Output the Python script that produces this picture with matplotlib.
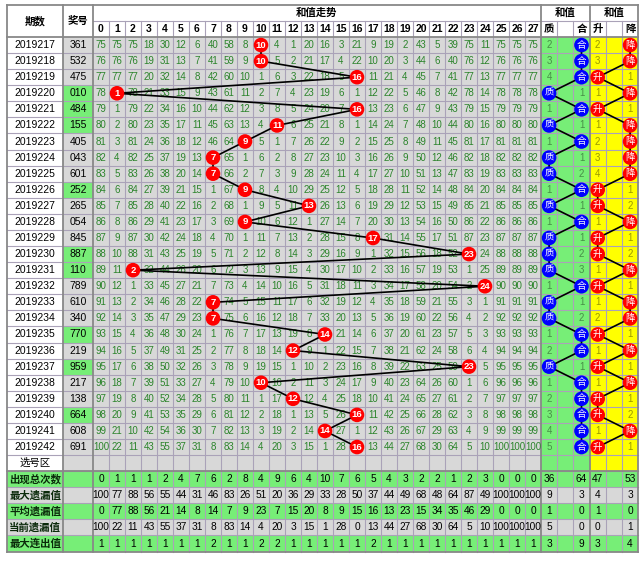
import matplotlib
matplotlib.use('Agg')
import matplotlib.pyplot as plt
from matplotlib.patches import Rectangle, Circle

plt.rcParams['font.family'] = ['Liberation Sans', 'Noto Sans CJK SC', 'DejaVu Sans']

# ---- data ----
issues = ['2019217', '2019218', '2019219', '2019220', '2019221', '2019222', '2019223',
          '2019224', '2019225', '2019226', '2019227', '2019228', '2019229', '2019230',
          '2019231', '2019232', '2019233', '2019234', '2019235', '2019236', '2019237',
          '2019238', '2019239', '2019240', '2019241', '2019242']
draws = ['361', '532', '475', '010', '484', '155', '405', '043', '601', '252', '265', '054', '845',
         '887', '110', '789', '610', '340', '770', '219', '959', '217', '138', '664', '608', '691']
hit_sum = [10, 10, 16, 1, 16, 11, 9, 7, 7, 9, 13, 9, 17, 23, 2, 24, 7, 7, 14, 12, 23, 10, 12, 16, 14, 16]

# omission per sum value 0..27 (0 = hit)
miss_rows = [
    "75 75 75 18 30 12 6 40 58 8 0 4 1 20 16 3 21 9 19 2 43 5 39 75 11 75 75 75",
    "76 76 76 19 31 13 7 41 59 9 0 5 2 21 17 4 22 10 20 3 44 6 40 76 12 76 76 76",
    "77 77 77 20 32 14 8 42 60 10 1 6 3 22 18 5 0 11 21 4 45 7 41 77 13 77 77 77",
    "78 0 78 21 33 15 9 43 61 11 2 7 4 23 19 6 1 12 22 5 46 8 42 78 14 78 78 78",
    "79 1 79 22 34 16 10 44 62 12 3 8 5 24 20 7 0 13 23 6 47 9 43 79 15 79 79 79",
    "80 2 80 23 35 17 11 45 63 13 4 0 6 25 21 8 1 14 24 7 48 10 44 80 16 80 80 80",
    "81 3 81 24 36 18 12 46 64 0 5 1 7 26 22 9 2 15 25 8 49 11 45 81 17 81 81 81",
    "82 4 82 25 37 19 13 0 65 1 6 2 8 27 23 10 3 16 26 9 50 12 46 82 18 82 82 82",
    "83 5 83 26 38 20 14 0 66 2 7 3 9 28 24 11 4 17 27 10 51 13 47 83 19 83 83 83",
    "84 6 84 27 39 21 15 1 67 0 8 4 10 29 25 12 5 18 28 11 52 14 48 84 20 84 84 84",
    "85 7 85 28 40 22 16 2 68 1 9 5 11 0 26 13 6 19 29 12 53 15 49 85 21 85 85 85",
    "86 8 86 29 41 23 17 3 69 0 10 6 12 1 27 14 7 20 30 13 54 16 50 86 22 86 86 86",
    "87 9 87 30 42 24 18 4 70 1 11 7 13 2 28 15 8 0 31 14 55 17 51 87 23 87 87 87",
    "88 10 88 31 43 25 19 5 71 2 12 8 14 3 29 16 9 1 32 15 56 18 52 0 24 88 88 88",
    "89 11 0 32 44 26 20 6 72 3 13 9 15 4 30 17 10 2 33 16 57 19 53 1 25 89 89 89",
    "90 12 1 33 45 27 21 7 73 4 14 10 16 5 31 18 11 3 34 17 58 20 54 2 0 90 90 90",
    "91 13 2 34 46 28 22 0 74 5 15 11 17 6 32 19 12 4 35 18 59 21 55 3 1 91 91 91",
    "92 14 3 35 47 29 23 0 75 6 16 12 18 7 33 20 13 5 36 19 60 22 56 4 2 92 92 92",
    "93 15 4 36 48 30 24 1 76 7 17 13 19 8 0 21 14 6 37 20 61 23 57 5 3 93 93 93",
    "94 16 5 37 49 31 25 2 77 8 18 14 0 9 1 22 15 7 38 21 62 24 58 6 4 94 94 94",
    "95 17 6 38 50 32 26 3 78 9 19 15 1 10 2 23 16 8 39 22 63 25 59 0 5 95 95 95",
    "96 18 7 39 51 33 27 4 79 10 0 16 2 11 3 24 17 9 40 23 64 26 60 1 6 96 96 96",
    "97 19 8 40 52 34 28 5 80 11 1 17 0 12 4 25 18 10 41 24 65 27 61 2 7 97 97 97",
    "98 20 9 41 53 35 29 6 81 12 2 18 1 13 5 26 0 11 42 25 66 28 62 3 8 98 98 98",
    "99 21 10 42 54 36 30 7 82 13 3 19 2 14 0 27 1 12 43 26 67 29 63 4 9 99 99 99",
    "100 22 11 43 55 37 31 8 83 14 4 20 3 15 1 28 0 13 44 27 68 30 64 5 10 100 100 100",
]

zh_hit = ['合', '合', '合', '质', '合', '质', '合', '质', '质', '合', '质', '合', '质',
          '质', '质', '合', '质', '质', '合', '合', '质', '合', '合', '合', '合', '合']
zh_miss = [2, 3, 4, 1, 1, 1, 1, 1, 2, 1, 1, 1, 1, 2, 3, 1, 1, 2, 1, 2, 1, 1, 2, 3, 4, 5]
ud_hit = ['降', '降', '升', '降', '升', '降', '降', '降', '降', '升', '升', '降', '升',
          '升', '降', '升', '降', '降', '升', '降', '升', '降', '升', '升', '降', '升']
ud_miss = [2, 3, 1, 1, 1, 1, 2, 3, 4, 1, 2, 1, 1, 2, 1, 1, 1, 2, 1, 1, 1, 1, 1, 2, 1, 1]

stat_labels = ['出现总次数', '最大遗漏值', '平均遗漏值', '当前遗漏值', '最大连出值']
stat_main = [
    "0 1 1 1 2 4 7 6 2 8 4 9 6 4 10 7 6 5 4 3 2 2 1 2 3 0 0 0",
    "100 77 88 56 55 44 31 46 83 26 51 20 36 29 33 28 50 37 44 49 68 48 64 87 49 100 100 100",
    "0 77 88 56 21 14 8 14 7 9 23 7 15 20 8 9 15 16 13 23 15 34 35 46 29 0 0 0",
    "100 22 11 43 55 37 31 8 83 14 4 20 3 15 1 28 0 13 44 27 68 30 64 5 10 100 100 100",
    "1 1 1 1 1 1 1 2 1 1 2 2 1 1 1 1 1 2 1 1 1 1 1 1 1 1 1 1",
]
stat_side = [[36, None, 64, 47, None, 53],
             [9, None, 3, 4, None, 3],
             [1, None, 0, 1, None, 0],
             [5, None, 0, 0, None, 1],
             [3, None, 9, 3, None, 4]]

# ---- layout (pixel units) ----
GREY = '#d8d8d8'
GREEN = '#77ee77'
YELLOW = '#ffff00'
NUM_GREEN = '#2b842b'
GRID = '#aaa2b8'
EDGE = '#888888'

x_issue0, x_issue1, x_draw1 = 7, 63, 93
w_num, w_side = 16.0, 16.2
main_edges = [x_draw1 + k * w_num for k in range(29)]
side_edges = [main_edges[-1] + j * w_side for j in range(8)]
y_top, y_h1, y_h2 = 5, 20.5, 37
row_h = 16.08
n_data = len(issues)
n_rows = n_data + 1 + len(stat_labels)
row_edges = [y_h2 + r * row_h for r in range(n_rows + 1)]
y_bot = row_edges[-1]


def mx(c):
    return main_edges[c] + w_num / 2


def sx(j):
    return side_edges[j] + w_side / 2


def ry(r):
    return row_edges[r] + row_h / 2


fig = plt.figure(figsize=(6.4, 5.61), dpi=100)
ax = fig.add_axes([0, 0, 1, 1])
ax.set_xlim(0, 640)
ax.set_ylim(561, 0)
ax.axis('off')


def cell(x0, x1, y0, y1, color):
    ax.add_patch(Rectangle((x0, y0), x1 - x0, y1 - y0, facecolor=color, edgecolor='none', zorder=0))


# backgrounds
cell(x_issue0, side_edges[6], y_top, y_h2, 'white')
for r in range(n_rows):
    y0, y1 = row_edges[r], row_edges[r + 1]
    if r < n_data + 1:
        cell(x_issue0, x_issue1, y0, y1, 'white')
        green_draw = r < n_data and len(set(draws[r])) < 3
        cell(x_issue1, x_draw1, y0, y1, GREEN if green_draw else GREY)
        cell(x_draw1, main_edges[-1], y0, y1, GREY)
        cell(side_edges[0], side_edges[3], y0, y1, GREEN)
        cell(side_edges[3], side_edges[6], y0, y1, YELLOW)
    else:
        k = r - n_data - 1
        cell(x_issue0, side_edges[6], y0, y1, GREEN if k % 2 == 0 else GREY)
cell(side_edges[6], 640, y_top, y_bot, 'white')

# grid lines
gkw = dict(color=GRID, lw=0.8, zorder=1)
for y in row_edges[1:-1]:
    ax.plot([x_issue0, side_edges[6]], [y, y], **gkw)
ax.plot([x_draw1, side_edges[6]], [y_h1, y_h1], **gkw)
for x in main_edges[1:-1] + side_edges[1:3] + side_edges[4:6]:
    ax.plot([x, x], [y_h1, y_bot], **gkw)
ekw = dict(color=EDGE, lw=1.3, zorder=1)
for x in [x_issue0, x_issue1, x_draw1, main_edges[-1], side_edges[3], side_edges[6]]:
    ax.plot([x, x], [y_top, y_bot], **ekw)
for y in [y_top, y_h2, row_edges[n_data + 1], y_bot]:
    ax.plot([x_issue0, side_edges[6]], [y, y], **ekw)

# header
hkw = dict(ha='center', va='center', fontweight='bold', fontsize=7.5, color='black', zorder=5)
ax.text((x_issue0 + x_issue1) / 2, (y_top + y_h2) / 2, '期数', **hkw)
ax.text((x_issue1 + x_draw1) / 2, (y_top + y_h2) / 2, '奖号', **hkw)
ax.text((main_edges[0] + main_edges[-1]) / 2, (y_top + y_h1) / 2, '和值走势', **hkw)
ax.text((side_edges[0] + side_edges[3]) / 2, (y_top + y_h1) / 2, '和值', **hkw)
ax.text((side_edges[3] + side_edges[6]) / 2, (y_top + y_h1) / 2, '和值', **hkw)
for c in range(28):
    ax.text(mx(c), (y_h1 + y_h2) / 2, str(c), **hkw)
for j, t in enumerate(['质', '', '合', '升', '', '降']):
    ax.text(sx(j), (y_h1 + y_h2) / 2, t, **hkw)

# data rows
for r in range(n_data):
    y = ry(r)
    ax.text((x_issue0 + x_issue1) / 2, y, issues[r], ha='center', va='center', fontsize=7.5, zorder=2)
    ax.text((x_issue1 + x_draw1) / 2, y, draws[r], ha='center', va='center', fontsize=7.5, zorder=2)
    vals = miss_rows[r].split()
    for c, v in enumerate(vals):
        if c == hit_sum[r]:
            continue
        ax.text(mx(c), y, v, ha='center', va='center', fontsize=7, color=NUM_GREEN, zorder=2)
    # side columns
    zj = 0 if zh_hit[r] == '质' else 2
    ax.text(sx(2 - zj), y, str(zh_miss[r]), ha='center', va='center', fontsize=7,
            color='black', alpha=0.4, zorder=2)
    uj = 3 if ud_hit[r] == '升' else 5
    ax.text(sx(8 - uj), y, str(ud_miss[r]), ha='center', va='center', fontsize=7,
            color='black', alpha=0.4, zorder=2)

ax.text((x_issue0 + x_issue1) / 2, ry(n_data), '选号区', ha='center', va='center', fontsize=7.5, zorder=2)

# trend lines
lkw = dict(color='black', lw=1.2, zorder=3, solid_capstyle='round')
zx = [sx(0 if h == '质' else 2) for h in zh_hit]
ux = [sx(3 if h == '升' else 5) for h in ud_hit]
ys = [ry(r) for r in range(n_data)]
ax.plot([mx(s) for s in hit_sum], ys, **lkw)
ax.plot(zx, ys, **lkw)
ax.plot(ux, ys, **lkw)

# hit balls
for r in range(n_data):
    y = ys[r]
    ax.add_patch(Circle((mx(hit_sum[r]), y), 7.3, facecolor='#ff0000', edgecolor='none', zorder=4))
    ax.text(mx(hit_sum[r]), y, str(hit_sum[r]), ha='center', va='center', fontsize=6.8,
            color='white', fontweight='bold', zorder=5)
    ax.add_patch(Circle((zx[r], y), 7.3, facecolor='#0000ff', edgecolor='none', zorder=4))
    ax.text(zx[r], y, zh_hit[r], ha='center', va='center', fontsize=6.8, color='white', zorder=5)
    ax.add_patch(Circle((ux[r], y), 7.3, facecolor='#ff0000', edgecolor='none', zorder=4))
    ax.text(ux[r], y, ud_hit[r], ha='center', va='center', fontsize=6.8, color='white', zorder=5)

# statistics rows
for k, lab in enumerate(stat_labels):
    r = n_data + 1 + k
    y = ry(r)
    ax.text((x_issue0 + x_issue1) / 2, y, lab, ha='center', va='center', fontsize=7.5,
            fontweight='bold', color='#0a2a0a', zorder=2)
    for c, v in enumerate(stat_main[k].split()):
        ax.text(mx(c), y, v, ha='center', va='center', fontsize=7.3, color='black', zorder=2)
    for j, v in enumerate(stat_side[k]):
        if v is not None:
            ax.text(sx(j), y, str(v), ha='center', va='center', fontsize=7.3, color='black', zorder=2)

fig.savefig('out.png', dpi=100)
